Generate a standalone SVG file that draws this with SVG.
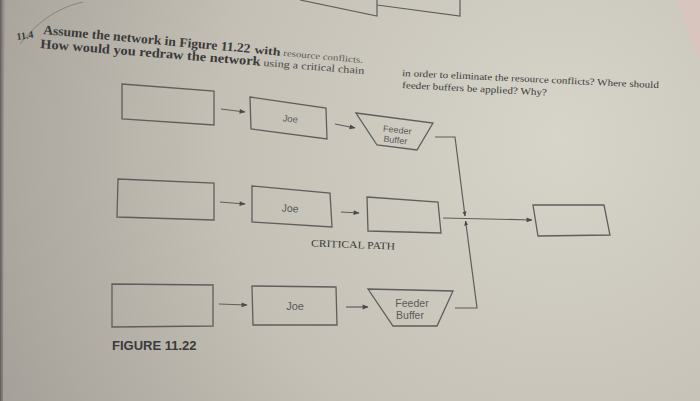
<svg xmlns="http://www.w3.org/2000/svg" width="700" height="401" viewBox="0 0 700 401">
<defs>
<radialGradient id="page" cx="560" cy="140" r="620" gradientUnits="userSpaceOnUse">
<stop offset="0" stop-color="#d7d4ca"/>
<stop offset="0.55" stop-color="#c4c0b5"/>
<stop offset="1" stop-color="#a49f98"/>
</radialGradient>
<linearGradient id="edge" x1="0" y1="0" x2="1" y2="0">
<stop offset="0" stop-color="#555150" stop-opacity="0.9"/>
<stop offset="1" stop-color="#8a8583" stop-opacity="0"/>
</linearGradient>
<marker id="arr" viewBox="0 0 10 10" refX="9" refY="5" markerWidth="7" markerHeight="6" orient="auto" markerUnits="userSpaceOnUse">
<path d="M0,1 L10,5 L0,9 z" fill="#4a4a4a"/>
</marker>
<marker id="arrs" viewBox="0 0 10 10" refX="9" refY="5" markerWidth="5" markerHeight="5" orient="auto" markerUnits="userSpaceOnUse">
<path d="M0,1 L10,5 L0,9 z" fill="#4a4a4a"/>
</marker>
</defs>
<style>
.box{fill:none;stroke:#5e5e5e;stroke-width:1.3}
.ln{fill:none;stroke:#5e5e5e;stroke-width:1.2}
.lbl{font-family:"Liberation Sans",Arial,sans-serif;fill:#5a5a5a;text-anchor:middle}
.ser{font-family:"Liberation Serif","Times New Roman",serif;fill:#3a3a3a}
</style>
<rect width="700" height="401" fill="url(#page)"/>
<path d="M0,0 L6,0 L4,80 L3,401 L0,401 z" fill="url(#edge)"/>
<path d="M678,0 L700,0 L700,60 L692,45 z" fill="#d8c6be"/>
<g class="ln">
<polyline points="300,0 377,16 377,0"/>
<polyline points="377,5 460,16 460,0"/>
<path d="M20,44 C35,25 55,8 83,2" stroke="#7a7a72" stroke-width="0.8"/>
</g>
<g id="question">
<text class="ser" transform="translate(17,40) rotate(-8)" font-size="10" font-weight="bold" fill="#4a4a4a">11.4</text>
<text class="ser" transform="translate(43,34) rotate(5.2)" font-weight="bold" fill="#383838"><tspan x="0" font-size="13" textLength="208" lengthAdjust="spacingAndGlyphs">Assume the network in Figure 11.22</tspan><tspan x="212" font-size="11" textLength="26" lengthAdjust="spacingAndGlyphs">with</tspan><tspan x="241" font-size="9" font-weight="normal" fill="#5a5a5a" textLength="80" lengthAdjust="spacingAndGlyphs">resource conflicts.</tspan></text>
<text class="ser" transform="translate(40,48) rotate(4.6)" font-weight="bold" fill="#383838"><tspan x="0" font-size="13" textLength="221" lengthAdjust="spacingAndGlyphs">How would you redraw the network</tspan><tspan x="224" font-size="10" font-weight="normal" fill="#4a4a4a" textLength="101" lengthAdjust="spacingAndGlyphs">using a critical chain</tspan></text>
<text class="ser" transform="translate(402,76) rotate(2.7)" font-size="9.5"><tspan x="0" textLength="257" lengthAdjust="spacingAndGlyphs">in order to eliminate the resource conflicts? Where should</tspan></text>
<text class="ser" transform="translate(402,88) rotate(3)" font-size="9.5"><tspan x="0" textLength="145" lengthAdjust="spacingAndGlyphs">feeder buffers be applied? Why?</tspan></text>
</g>
<g id="connectors" class="ln">
<line x1="221" y1="109" x2="245" y2="112" marker-end="url(#arr)"/>
<line x1="335" y1="124" x2="355" y2="128" marker-end="url(#arr)"/>
<line x1="220" y1="202" x2="245" y2="204" marker-end="url(#arr)"/>
<line x1="341" y1="212" x2="359" y2="213" marker-end="url(#arr)"/>
<line x1="219" y1="304" x2="247" y2="305" marker-end="url(#arr)"/>
<line x1="346" y1="307" x2="368" y2="307" marker-end="url(#arr)"/>
<line x1="443" y1="218" x2="532" y2="220" marker-end="url(#arr)"/>
<polyline points="435,137 455,137 465,216" marker-end="url(#arrs)"/>
<polyline points="455,308 477,308 465.6,221" marker-end="url(#arrs)"/>
</g>
<g id="n-a1"><polygon class="box" points="122,84 214,91 214,125 122,119"/></g>
<g id="n-joe1"><polygon class="box" points="250,97 326,108 327,139 251,129"/>
<text class="lbl" transform="translate(290,122) rotate(6)" font-size="9.5">Joe</text></g>
<g id="n-fb1"><polygon class="box" points="356,113 433,123 417,150 377,145"/>
<text class="lbl" transform="translate(397,133) rotate(6)" font-size="9">Feeder</text>
<text class="lbl" transform="translate(395,143) rotate(6)" font-size="9">Buffer</text></g>
<g id="n-a2"><polygon class="box" points="118,179 214,183 214,220 117,217"/></g>
<g id="n-joe2"><polygon class="box" points="252,186 330,193 332,227 252,222"/>
<text class="lbl" transform="translate(290,212) rotate(3)" font-size="10.5">Joe</text></g>
<g id="n-c2"><polygon class="box" points="367,197 438,202 441,233 368,231"/>
<text class="ser" transform="translate(353,248) rotate(2)" font-size="10" text-anchor="middle" fill="#444" textLength="84" lengthAdjust="spacingAndGlyphs">CRITICAL PATH</text></g>
<g id="n-end"><polygon class="box" points="533,205 604,205 610,235 538,236"/></g>
<g id="n-a3"><polygon class="box" points="112,284 213,285 213,326 112,327"/></g>
<g id="n-joe3"><polygon class="box" points="252,286 336,287 337,325 253,325"/>
<text class="lbl" x="295" y="310" font-size="11">Joe</text></g>
<g id="n-fb3"><polygon class="box" points="368,289 453,291 437,326 393,326"/>
<text class="lbl" x="412" y="307" font-size="10.5">Feeder</text>
<text class="lbl" x="410" y="319" font-size="10.5">Buffer</text></g>
<text x="112" y="350" font-family="'Liberation Sans',Arial,sans-serif" font-weight="bold" font-size="13" fill="#3a3a3a">FIGURE 11.22</text>
</svg>
